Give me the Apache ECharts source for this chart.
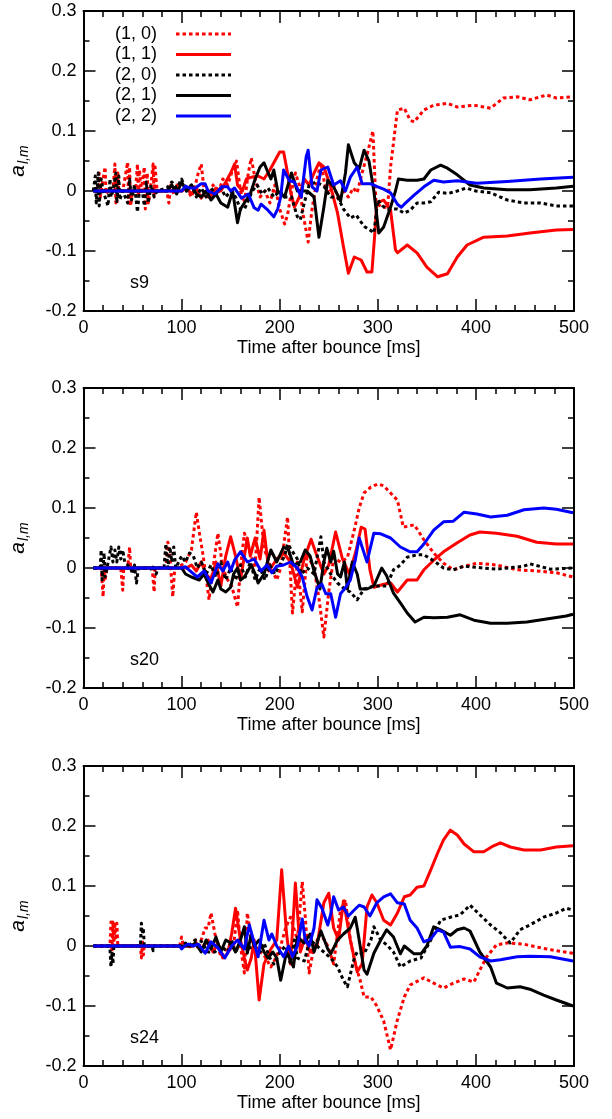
<!DOCTYPE html>
<html>
<head>
<meta charset="utf-8">
<script src="https://cdn.jsdelivr.net/npm/echarts@6/dist/echarts.min.js"></script>
<style>
html,body{margin:0;padding:0;background:#fff;}
#main{width:612px;height:1119px;}
</style>
</head>
<body>
<div id="main"></div>
<script>
// ---- data ----
const seriesNames = ['(1, 0)', '(1, 1)', '(2, 0)', '(2, 1)', '(2, 2)'];
const panelLabels = ['s9', 's20', 's24'];
const xTicks = [0, 100, 200, 300, 400, 500];
const yTicks = [-0.2, -0.1, 0, 0.1, 0.2, 0.3];

// s9
const s9_10 = [[10,0],[14,0],[16,0.03],[17,-0.01],[18,0.0],[20,0],[22,0.04],[23,-0.005],[25,0],[30,0],[32,0.045],[33,-0.02],[35,0.03],[36,0],[40,0],[45,0.048],[46,-0.02],[47,0.04],[48,-0.025],[50,0],[53,0],[55,0.045],[56,-0.01],[57,0.035],[59,0],[62,0.04],[63,-0.03],[65,0.03],[66,-0.02],[68,0],[71,0.045],[72,-0.01],[73,0.04],[75,0],[85,0],[87,-0.02],[89,0.01],[92,-0.005],[95,0.01],[100,0],[105,0.005],[110,-0.01],[114,0.01],[117,0.03],[120,0.045],[123,0.0],[127,-0.01],[132,0.01],[137,-0.005],[142,0.02],[147,0.01],[152,0.035],[156,0.05],[160,0.0],[164,-0.02],[168,0.03],[171,0.055],[175,0.02],[180,-0.01],[185,0.0],[190,-0.02],[195,0.01],[200,-0.03],[205,-0.055],[208,-0.04],[212,0.0],[216,0.03],[220,0.01],[224,-0.04],[229,-0.085],[233,-0.03],[238,0.02],[242,0.047],[246,0.01],[250,-0.005],[255,0.01],[260,-0.015],[265,0.0],[270,-0.01],[275,0.005],[279,-0.003],[284,0.03],[289,0.06],[295,0.1],[298,-0.015],[303,-0.027],[310,-0.027],[313,0.04],[320,0.135],[327,0.138],[333,0.118],[337,0.115],[347,0.135],[357,0.143],[371,0.146],[381,0.14],[398,0.143],[415,0.138],[428,0.155],[442,0.157],[455,0.152],[472,0.16],[482,0.155],[499,0.157]];
const s9_11 = [[10,0],[100,0],[105,0.005],[110,-0.005],[115,0.005],[120,-0.012],[125,0.0],[130,-0.008],[135,0.005],[140,0.0],[145,0.015],[150,0.03],[154,0.045],[157,0.01],[162,0.0],[166,0.02],[171,0.023],[178,0.025],[184,0.02],[190,0.035],[195,0.05],[200,0.065],[204,0.065],[208,0.03],[211,0.0],[215,-0.027],[220,-0.01],[225,0.02],[230,0.01],[235,0.03],[240,0.047],[245,0.04],[252,0.007],[259,-0.037],[265,-0.093],[270,-0.137],[276,-0.11],[283,-0.115],[289,-0.135],[294,-0.135],[297,-0.07],[299,-0.02],[306,-0.015],[313,-0.032],[318,-0.098],[320,-0.103],[330,-0.09],[340,-0.103],[350,-0.127],[361,-0.143],[371,-0.138],[381,-0.11],[391,-0.09],[408,-0.077],[432,-0.075],[455,-0.07],[482,-0.065],[499,-0.064]];
const s9_20 = [[10,0],[12,0.025],[13,-0.02],[15,0.03],[16,-0.025],[18,0.02],[20,0],[25,-0.025],[27,0.02],[28,-0.01],[30,0],[33,0.03],[34,-0.02],[36,0.025],[37,-0.015],[40,0],[45,-0.02],[47,0.02],[49,-0.015],[52,0.01],[55,-0.035],[57,0.0],[60,0],[62,-0.025],[64,0.015],[66,-0.02],[69,0.01],[72,-0.01],[75,0],[85,0.005],[90,0.015],[95,0.005],[100,0.02],[105,0.0],[110,0.01],[115,-0.01],[120,0.005],[125,-0.01],[130,0.005],[135,-0.005],[140,0.005],[145,-0.01],[150,0.0],[155,-0.01],[160,-0.03],[164,-0.03],[167,-0.02],[172,0.0],[177,0.01],[182,-0.005],[188,0.005],[194,-0.01],[200,0.0],[205,-0.01],[212,-0.01],[218,-0.043],[221,-0.048],[225,-0.02],[230,0.01],[237,0.015],[245,0.008],[252,-0.01],[259,-0.01],[265,-0.03],[272,-0.045],[278,-0.04],[282,-0.05],[287,-0.06],[292,-0.065],[296,-0.07],[300,-0.015],[305,-0.025],[310,-0.03],[315,-0.03],[320,-0.03],[327,-0.037],[333,-0.032],[340,-0.02],[347,-0.02],[354,-0.018],[362,-0.002],[372,-0.004],[381,0.0],[390,0.005],[400,0.0],[415,-0.003],[432,-0.015],[449,-0.02],[466,-0.02],[482,-0.025],[499,-0.025]];
const s9_21 = [[10,0],[85,0],[90,0.01],[95,-0.005],[100,0.015],[105,0.0],[110,0.01],[115,-0.005],[120,-0.01],[125,0.0],[130,-0.015],[135,-0.005],[140,-0.02],[147,-0.027],[152,0.0],[157,-0.053],[160,-0.03],[164,-0.02],[170,-0.005],[175,0.02],[180,0.04],[184,0.047],[187,0.035],[191,0.02],[194,0.035],[198,0.0],[205,-0.01],[212,0.03],[218,0.0],[228,0.0],[235,-0.01],[240,-0.077],[245,-0.027],[249,0.018],[255,0.007],[262,-0.017],[267,0.03],[270,0.077],[276,0.047],[281,0.037],[286,0.068],[291,0.05],[296,0.0],[301,-0.07],[306,-0.06],[313,-0.027],[318,0.0],[321,0.02],[323,0.02],[330,0.018],[340,0.018],[347,0.02],[354,0.035],[364,0.043],[371,0.038],[381,0.027],[394,0.01],[408,0.005],[432,0.002],[455,0.002],[482,0.005],[499,0.008]];
const s9_22 = [[10,0],[100,0],[104,0.008],[108,0.005],[114,0.005],[120,0.012],[124,0.012],[127,0.0],[134,-0.005],[141,0.007],[147,0.007],[150,0.0],[154,0.005],[161,-0.012],[168,-0.005],[174,-0.028],[178,-0.032],[181,-0.022],[188,-0.032],[194,-0.043],[198,-0.03],[201,-0.01],[204,0.035],[210,0.017],[215,0.015],[222,-0.01],[227,0.057],[229,0.068],[233,0.007],[238,0.0],[242,0.035],[249,0.04],[255,0.01],[262,0.017],[267,0.0],[272,0.023],[279,0.04],[284,0.012],[293,0.012],[300,0.007],[306,0.003],[313,-0.003],[320,-0.022],[324,-0.027],[327,-0.022],[337,-0.007],[347,0.007],[357,0.018],[367,0.015],[381,0.017],[401,0.013],[432,0.016],[466,0.02],[499,0.023]];

// s20
const s20_10 = [[10,0],[18,0],[20,-0.048],[21,0.0],[22,-0.02],[24,0],[38,0],[40,-0.037],[41,0],[45,0],[47,0.035],[48,0],[55,0],[70,0],[72,-0.04],[73,0],[84,0],[86,0.043],[88,0.02],[91,-0.048],[93,0],[100,0.005],[104,0.01],[110,0.03],[115,0.093],[118,0.06],[122,0.02],[128,-0.053],[132,0.0],[137,0.058],[142,0.0],[147,-0.02],[151,-0.03],[157,-0.065],[160,0.0],[164,0.058],[171,0.02],[175,0.0],[179,0.118],[184,0.033],[191,0.0],[197,-0.02],[201,0.0],[208,0.085],[213,-0.075],[218,0.01],[223,-0.073],[228,0.023],[235,0.0],[240,-0.05],[245,-0.115],[250,-0.04],[255,0.017],[262,0.01],[269,0.017],[276,0.063],[281,0.1],[286,0.125],[293,0.135],[300,0.14],[306,0.137],[313,0.125],[320,0.113],[326,0.068],[332,0.07],[337,0.072],[340,0.065],[347,0.047],[357,0.025],[367,0.008],[377,-0.003],[388,0.003],[401,0.008],[421,0.005],[442,-0.003],[462,-0.005],[482,-0.008],[499,-0.015]];
const s20_11 = [[10,0],[105,0],[110,0.005],[115,-0.005],[120,0.01],[125,-0.01],[130,-0.02],[135,0.01],[140,-0.03],[145,0.02],[150,0.052],[155,0.02],[160,-0.02],[167,0.05],[170,0.02],[175,0.05],[180,0.015],[184,0.063],[189,-0.005],[197,0.015],[204,0.025],[211,0.01],[218,-0.032],[225,0.015],[232,0.048],[238,0.02],[245,-0.01],[250,0.005],[257,0.06],[264,0.015],[271,-0.01],[278,0.03],[283,0.068],[287,0.065],[292,-0.003],[296,-0.032],[306,-0.027],[313,-0.025],[320,-0.04],[330,-0.02],[340,-0.02],[347,-0.003],[357,0.013],[367,0.027],[381,0.042],[394,0.055],[404,0.06],[421,0.058],[442,0.053],[462,0.043],[482,0.04],[499,0.04]];
const s20_20 = [[10,0],[17,0],[18,0.03],[19,-0.02],[21,0.025],[22,-0.015],[24,0.0],[28,0.035],[30,0.01],[32,0.03],[34,0.01],[36,0.035],[38,0.015],[40,0.03],[42,0.01],[45,0.005],[48,0.0],[50,-0.01],[52,0.005],[54,-0.025],[56,0],[68,0],[70,-0.005],[72,0.005],[74,-0.01],[76,0],[82,0.0],[84,0.04],[86,0.0],[88,0.035],[90,0.01],[92,0.035],[94,0.0],[100,0.02],[104,0.01],[108,0.025],[112,0.02],[116,0.0],[120,0.01],[125,-0.01],[130,0.005],[135,-0.015],[140,0.01],[145,-0.02],[150,0.0],[155,-0.02],[160,0.005],[165,-0.015],[170,0.01],[175,-0.02],[180,0.0],[185,-0.02],[190,0.005],[195,-0.01],[200,0.005],[205,0.02],[208,0.04],[212,0.03],[218,0.015],[222,-0.01],[228,0.0],[235,-0.01],[242,0.052],[245,0.01],[252,-0.01],[259,-0.025],[266,-0.035],[272,-0.04],[279,-0.053],[286,-0.035],[296,-0.03],[309,-0.03],[316,-0.003],[323,0.005],[330,0.018],[340,0.022],[347,0.022],[357,0.012],[367,0.0],[377,-0.003],[388,0.003],[401,0.001],[421,-0.002],[449,0.003],[455,0.007],[476,-0.002],[499,0.0]];
const s20_21 = [[10,0],[100,0],[104,-0.01],[110,-0.015],[118,-0.02],[123,-0.01],[127,-0.025],[132,-0.04],[137,-0.02],[140,-0.035],[145,-0.04],[150,-0.032],[153,-0.01],[157,0.0],[160,-0.02],[164,-0.015],[171,0.005],[175,-0.01],[178,-0.025],[184,-0.01],[191,0.03],[197,0.01],[204,0.035],[209,0.03],[214,0.005],[221,0.01],[226,0.03],[231,0.02],[235,-0.005],[241,-0.035],[245,0.01],[248,0.033],[252,0.01],[255,0.028],[259,-0.01],[262,-0.015],[266,0.01],[269,-0.035],[274,0.01],[279,-0.01],[282,-0.035],[289,-0.035],[296,-0.03],[304,0.0],[309,-0.013],[316,-0.042],[323,-0.058],[330,-0.075],[338,-0.09],[347,-0.082],[357,-0.083],[371,-0.082],[384,-0.078],[398,-0.087],[415,-0.092],[432,-0.092],[452,-0.09],[472,-0.085],[492,-0.08],[499,-0.077]];
const s20_22 = [[10,0],[100,0],[104,0.002],[111,-0.008],[116,-0.015],[123,-0.005],[130,-0.025],[137,0.007],[142,-0.005],[147,0.01],[150,-0.005],[154,0.013],[157,0.02],[160,0.027],[167,0.01],[174,0.015],[181,-0.005],[187,0.005],[192,-0.008],[197,0.003],[204,0.005],[211,0.01],[218,0.0],[223,-0.015],[228,-0.048],[233,-0.07],[238,-0.033],[243,-0.027],[247,-0.043],[252,-0.043],[257,-0.082],[262,-0.043],[267,-0.033],[272,-0.02],[277,0.013],[281,0.05],[283,0.052],[289,0.01],[296,0.058],[303,0.057],[313,0.05],[323,0.035],[333,0.027],[340,0.027],[347,0.04],[357,0.063],[367,0.077],[377,0.078],[388,0.093],[401,0.09],[415,0.085],[432,0.088],[449,0.097],[469,0.1],[482,0.098],[499,0.092]];

// s24
const s24_10 = [[10,0],[27,0],[28,0.04],[29,-0.01],[30,0.04],[31,0.0],[32,0.04],[33,0.01],[34,0.038],[35,0],[40,0],[58,0],[59,-0.02],[60,0.01],[61,-0.015],[62,0],[98,0],[100,0.015],[102,0],[107,0.005],[110,-0.005],[114,0.01],[117,-0.005],[120,0.01],[124,0.03],[127,0.03],[130,0.055],[134,0.02],[137,0.0],[140,-0.018],[144,-0.005],[147,-0.01],[153,0.0],[157,0.06],[160,0.0],[164,-0.045],[167,0.055],[171,0.01],[178,-0.007],[184,-0.015],[191,-0.035],[196,-0.02],[201,0.0],[206,0.03],[211,0.048],[218,0.01],[223,0.107],[226,0.05],[230,-0.045],[235,0.0],[242,0.02],[249,0.0],[255,-0.03],[262,0.06],[267,0.077],[272,0.01],[277,-0.03],[282,-0.057],[286,-0.085],[293,-0.085],[299,-0.1],[306,-0.125],[313,-0.173],[320,-0.123],[327,-0.085],[333,-0.065],[347,-0.053],[357,-0.062],[367,-0.07],[377,-0.062],[388,-0.055],[398,-0.06],[404,-0.04],[411,-0.018],[421,0.002],[432,0.005],[449,0.003],[466,-0.003],[482,-0.008],[499,-0.012]];
const s24_11 = [[10,0],[110,0],[115,0.005],[120,-0.005],[127,0.01],[132,-0.01],[137,0.005],[142,-0.02],[147,-0.012],[151,0.02],[155,0.063],[160,0.01],[164,-0.02],[167,-0.04],[171,-0.02],[174,0.01],[179,-0.09],[184,-0.03],[191,-0.005],[197,0.01],[202,0.127],[207,0.02],[211,-0.03],[216,0.105],[221,-0.01],[226,0.015],[231,-0.01],[238,0.0],[245,0.072],[250,0.088],[255,0.03],[260,0.01],[265,0.075],[272,0.01],[279,-0.043],[284,-0.03],[289,0.065],[294,0.085],[299,0.072],[306,0.043],[313,0.035],[320,0.055],[327,0.082],[333,0.085],[340,0.098],[347,0.1],[354,0.127],[361,0.155],[367,0.177],[374,0.193],[381,0.185],[388,0.17],[398,0.157],[408,0.157],[418,0.167],[425,0.172],[435,0.165],[449,0.16],[466,0.16],[482,0.165],[499,0.167]];
const s24_20 = [[10,0],[26,0],[27,-0.005],[28,-0.035],[29,-0.01],[30,-0.03],[31,0],[58,0],[59,0.038],[60,0.02],[61,0.03],[62,0],[70,0],[71,-0.008],[72,0],[100,0],[104,0.005],[107,0.0],[114,0.01],[120,0.008],[127,-0.01],[134,-0.01],[140,0.0],[147,-0.01],[151,0.01],[155,-0.01],[160,0.005],[167,-0.005],[174,0.0],[180,-0.01],[184,0.005],[190,-0.02],[194,-0.03],[200,-0.01],[206,0.0],[211,-0.03],[215,0.01],[218,-0.02],[225,-0.025],[231,0.01],[238,0.0],[245,-0.01],[252,-0.02],[259,-0.035],[265,-0.057],[269,-0.068],[276,-0.02],[279,-0.01],[286,-0.013],[293,0.01],[296,0.032],[303,0.01],[309,0.002],[316,-0.01],[323,-0.035],[333,-0.025],[344,-0.02],[354,0.01],[364,0.043],[374,0.048],[384,0.052],[394,0.068],[404,0.052],[415,0.035],[425,0.022],[435,0.005],[445,0.027],[455,0.035],[469,0.048],[482,0.055],[492,0.063],[499,0.06]];
const s24_21 = [[10,0],[110,0],[114,0.005],[120,-0.01],[125,0.01],[130,-0.005],[135,0.015],[140,-0.01],[145,0.01],[150,0.005],[155,-0.01],[160,0.01],[164,0.032],[167,-0.012],[171,0.02],[174,0.0],[179,0.01],[184,-0.01],[188,-0.02],[193,-0.01],[197,-0.02],[201,-0.057],[207,-0.01],[214,-0.035],[218,0.015],[225,0.005],[231,0.02],[235,-0.01],[242,0.025],[249,-0.005],[252,-0.013],[259,0.01],[265,0.02],[272,0.03],[277,0.048],[279,0.03],[282,0.0],[286,-0.04],[289,-0.047],[296,-0.012],[303,0.01],[309,0.027],[316,0.015],[323,-0.013],[327,0.0],[337,-0.013],[344,-0.013],[350,0.0],[357,0.032],[364,0.027],[374,0.018],[381,0.027],[388,0.03],[394,0.025],[404,-0.01],[415,-0.035],[421,-0.062],[432,-0.07],[445,-0.068],[455,-0.072],[469,-0.082],[482,-0.09],[499,-0.1]];
const s24_22 = [[10,0],[98,0],[100,-0.005],[103,0.0],[107,0.003],[112,0.0],[117,0.003],[124,-0.012],[130,0.007],[137,-0.003],[144,-0.02],[151,0.0],[157,0.01],[164,-0.005],[169,0.035],[174,0.005],[178,-0.018],[184,0.043],[189,0.01],[192,0.02],[197,0.0],[204,-0.018],[209,0.0],[213,-0.018],[218,0.0],[223,0.045],[226,0.01],[230,0.0],[235,0.03],[238,0.077],[243,0.063],[249,0.035],[252,0.053],[255,0.082],[260,0.06],[265,0.065],[270,0.05],[276,0.06],[281,0.068],[286,0.065],[292,0.05],[299,0.072],[306,0.082],[313,0.087],[320,0.072],[327,0.07],[333,0.043],[340,0.03],[347,0.007],[354,0.012],[361,0.027],[367,0.023],[374,-0.002],[384,-0.001],[394,-0.005],[404,-0.018],[415,-0.025],[425,-0.023],[442,-0.018],[455,-0.017],[476,-0.018],[499,-0.025]];

const panels = [
  [s9_10, s9_11, s9_20, s9_21, s9_22],
  [s20_10, s20_11, s20_20, s20_21, s20_22],
  [s24_10, s24_11, s24_20, s24_21, s24_22]
];

// ---- styles ----
const FONT = '"Liberation Sans", Arial, Helvetica, sans-serif';
const styles = [
  {color: '#ff0000', type: [3.5, 3]},
  {color: '#ff0000', type: 'solid'},
  {color: '#000000', type: [3.5, 3]},
  {color: '#000000', type: 'solid'},
  {color: '#0000ff', type: 'solid'}
];
const gridTops = [11, 388, 766];
const GRID_H = 300;

const grids = [], xAxes = [], yAxes = [], series = [], graphics = [];
const fmtY = v => String(+v.toFixed(1));

gridTops.forEach((top, p) => {
  grids.push({left: 82, top: top, width: 492, height: GRID_H});
  const axisLine = {show: true, onZero: false, lineStyle: {color: '#000', width: 2}};
  const tick = {show: true, inside: true, length: 12, lineStyle: {color: '#000', width: 1.5}};
  const xBase = {gridIndex: p, type: 'value', min: xTicks[0], max: xTicks[xTicks.length-1], interval: 100,
    axisLine: axisLine, axisTick: tick, splitLine: {show: false},
    minorTick: {show: true, splitNumber: 5, length: 6, lineStyle: {color: '#000', width: 1.5}}};
  xAxes.push(Object.assign({}, xBase, {position: 'bottom',
    axisLabel: {fontSize: 18, color: '#000', margin: 8, fontFamily: FONT},
    name: 'Time after bounce [ms]', nameLocation: 'middle', nameGap: 28,
    nameTextStyle: {fontSize: 18, color: '#000', fontFamily: FONT}}));
  xAxes.push(Object.assign({}, xBase, {position: 'top', axisLabel: {show: false}}));
  const yBase = {gridIndex: p, type: 'value', min: yTicks[0], max: yTicks[yTicks.length-1], interval: 0.1,
    axisLine: axisLine, axisTick: tick, splitLine: {show: false},
    minorTick: {show: true, splitNumber: 2, length: 6, lineStyle: {color: '#000', width: 1.5}}};
  yAxes.push(Object.assign({}, yBase, {position: 'left',
    axisLabel: {fontSize: 18, color: '#000', margin: 7, fontFamily: FONT, formatter: fmtY},
    name: '{a|a}{s|l,m}', nameLocation: 'middle', nameGap: 52, nameRotate: 90,
    nameTextStyle: {fontFamily: FONT, color: '#000',
      rich: {a: {fontSize: 21, fontStyle: 'italic', fontFamily: FONT, lineHeight: 26, verticalAlign: 'middle'},
             s: {fontSize: 14, fontStyle: 'italic', fontFamily: FONT, lineHeight: 26, verticalAlign: 'bottom', padding: [0,0,0,1]}}}}));
  yAxes.push(Object.assign({}, yBase, {position: 'right', axisLabel: {show: false}}));

  panels[p].forEach((data, i) => {
    series.push({
      name: seriesNames[i], type: 'line', xAxisIndex: p * 2, yAxisIndex: p * 2,
      data: data, symbol: 'none', showSymbol: false, animation: false,
      lineStyle: {color: styles[i].color, width: 3, type: styles[i].type, cap: 'butt', join: 'round'},
      itemStyle: {color: styles[i].color},
      z: 2 + i
    });
  });

  graphics.push({type: 'text', left: 130, top: top + GRID_H - 37,
    style: {text: panelLabels[p], fontSize: 18, fill: '#000', fontFamily: FONT}});
});

const option = {
  backgroundColor: '#fff',
  animation: false,
  grid: grids,
  xAxis: xAxes,
  yAxis: yAxes,
  legend: {
    data: seriesNames, orient: 'vertical', left: 110, top: 19, align: 'right',
    itemWidth: 55, itemHeight: 20, itemGap: 0.5,
    itemStyle: {opacity: 0, borderWidth: 0},
    lineStyle: {width: 3},
    textStyle: {fontSize: 18, color: '#000', fontFamily: FONT, lineHeight: 20, padding: [0, 14, 0, 0]},
    selectedMode: false
  },
  graphic: graphics,
  series: series
};

const chart = echarts.init(document.getElementById('main'), null, {renderer: 'canvas'});
chart.setOption(option);
</script>
</body>
</html>
